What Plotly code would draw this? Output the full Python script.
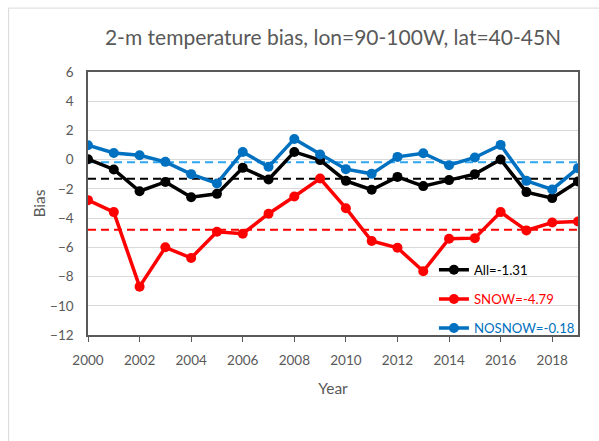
import plotly.graph_objects as go

# Annual 2-m temperature bias, lon=90-100W, lat=40-45N
years = list(range(2000, 2020))
bias_all = [0.03, -0.67, -2.16, -1.52, -2.57, -2.34, -0.56, -1.36, 0.53, -0.03,
            -1.45, -2.06, -1.18, -1.81, -1.40, -0.99, 0.01, -2.22, -2.63, -1.49]
bias_snow = [-2.77, -3.59, -8.69, -6.00, -6.73, -4.93, -5.07, -3.70, -2.52, -1.29,
             -3.32, -5.57, -6.03, -7.64, -5.41, -5.37, -3.59, -4.84, -4.30, -4.23]
bias_nosnow = [0.99, 0.46, 0.30, -0.15, -0.99, -1.63, 0.53, -0.49, 1.42, 0.35,
               -0.65, -0.97, 0.19, 0.44, -0.38, 0.15, 1.01, -1.45, -2.04, -0.58]

# Period means shown in the legend
mean_all = -1.31
mean_snow = -4.79
mean_nosnow = -0.18

series = [
    ("All", bias_all, mean_all, "#000000", "#000000"),
    ("SNOW", bias_snow, mean_snow, "#FF0000", "#FF0000"),
    ("NOSNOW", bias_nosnow, mean_nosnow, "#0070C0", "#2EA6F0"),
]

FONT = "Lato"
GREY = "#595959"

fig = go.Figure()

# Dashed mean lines
for name, vals, mean, col, dcol in series:
    fig.add_trace(go.Scatter(
        x=[years[0], years[-1]], y=[mean, mean], mode="lines",
        line=dict(color=dcol, width=2, dash="8px,5px"),
        showlegend=False, hoverinfo="skip",
    ))

# Annual series
for name, vals, mean, col, dcol in series:
    fig.add_trace(go.Scatter(
        x=years, y=vals, mode="lines+markers",
        name=f"<span style='color:{col}'>{name}={mean:.2f}</span>",
        legendgroup=name,
        line=dict(color=col, width=3.5),
        marker=dict(color=col, size=10),
    ))

fig.update_layout(
    width=599, height=441,
    margin=dict(l=88, r=21, t=72, b=106),
    paper_bgcolor="white", plot_bgcolor="white",
    font=dict(family=FONT, color=GREY, size=13),
    title=dict(text="2-m temperature bias, lon=90-100W, lat=40-45N",
               x=0.556, xanchor="center", y=0.914, yanchor="middle",
               font=dict(family=FONT, size=21, color=GREY)),
    legend=dict(x=0.706, xanchor="left", y=-0.033, yanchor="bottom",
                bgcolor="rgba(0,0,0,0)", font=dict(family=FONT, size=13.2),
                tracegroupgap=9, traceorder="grouped", itemwidth=30),
    xaxis=dict(range=[2000, 2019], tickmode="linear", tick0=2000, dtick=2,
               showgrid=False, zeroline=False,
               showline=True, mirror=True, linecolor=GREY, linewidth=1.5,
               ticks="outside", ticklen=5, tickcolor=GREY, tickwidth=1.2,
               ticklabelstandoff=7,
               title=dict(text="Year", font=dict(size=15.5, color=GREY), standoff=16),
               tickfont=dict(size=13.5, color=GREY)),
    yaxis=dict(range=[-12, 6], tickmode="linear", tick0=-12, dtick=2,
               showgrid=True, gridcolor="#D9D9D9", gridwidth=1,
               zeroline=False,
               showline=True, mirror=True, linecolor=GREY, linewidth=1.5,
               ticks="", ticklabelstandoff=10,
               title=dict(text="Bias", font=dict(size=15.5, color=GREY), standoff=1),
               tickfont=dict(size=13.5, color=GREY)),
    shapes=[
        dict(type="line", xref="paper", yref="paper", x0=-0.162, x1=-0.162,
             y0=1.243, y1=-0.45, line=dict(color="#D9D9D9", width=1)),
        dict(type="line", xref="paper", yref="paper", x0=-0.162, x1=1.1,
             y0=1.243, y1=1.243, line=dict(color="#D9D9D9", width=1)),
    ],
)

fig.write_html("out.html")
